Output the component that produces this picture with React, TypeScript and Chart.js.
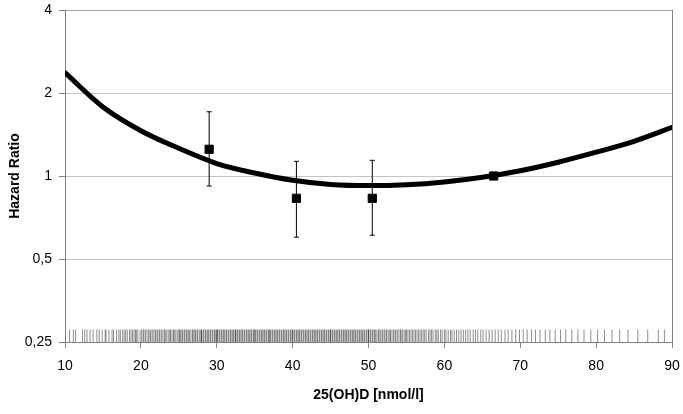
import React, { useEffect, useRef } from 'react';
import { Chart, registerables } from 'chart.js';

Chart.register(...registerables);

// Spline curve (x in nmol/l, hazard ratio)
const curveX = [10, 15, 20, 25, 30, 35, 40, 45, 50, 55, 60, 65, 70, 75, 80, 85, 90];
const curveHR = [2.37, 1.78, 1.46, 1.26, 1.11, 1.025, 0.965, 0.932, 0.923, 0.93, 0.952, 0.99, 1.045, 1.122, 1.22, 1.336, 1.5];

// Category estimates with 95% CI
const pointX = [29, 40.5, 50.5, 66.5];
const pointHR = [1.25, 0.83, 0.83, 1.0];
const ciLow: (number | null)[] = [0.92, 0.6, 0.61, null];
const ciHigh: (number | null)[] = [1.71, 1.13, 1.14, null];

// Axis ticks
const xTicks = [10, 20, 30, 40, 50, 60, 70, 80, 90];
const yTicks = [0.25, 0.5, 1, 2, 4];

// Rug of individual 25(OH)D values
const rugLevel = 0.2632;
const rugX = [
  10.6, 11.1, 11.4, 12.3, 12.6, 12.9, 13.3, 13.7, 14.2, 14.5, 14.9, 15.3, 15.4, 15.8, 16.2, 16.4, 16.8, 17.1, 17.3, 17.6, 17.8,
  18.0, 18.2, 18.5, 18.7, 18.9, 19.1, 19.3, 19.4, 19.6, 19.9, 20.1, 20.3, 20.4, 20.6, 20.8, 21.0, 21.2, 21.3, 21.5, 21.7, 21.9,
  22.0, 22.2, 22.4, 22.5, 22.7, 22.9, 23.1, 23.2, 23.4, 23.6, 23.8, 23.9, 24.1, 24.3, 24.4, 24.6, 24.8, 25.0,
  25.1, 25.2, 25.4, 25.5, 25.7, 25.8, 26.0, 26.1, 26.3, 26.4, 26.6, 26.8, 26.9, 27.1, 27.2, 27.4, 27.5, 27.7, 27.9, 28.0,
  28.0, 28.2, 28.3, 28.5, 28.6, 28.8, 28.9, 29.1, 29.2, 29.4, 29.5, 29.7, 29.8, 30.0, 30.0, 30.1, 30.3, 30.4, 30.6, 30.7,
  30.9, 31.0, 31.2, 31.3, 31.5, 31.6, 31.8, 31.9, 32.1, 32.2, 32.4, 32.5, 32.5, 32.7, 32.8, 33.0, 33.1, 33.3, 33.4, 33.6,
  33.7, 33.9, 34.0, 34.2, 34.3, 34.5, 34.6, 34.8, 34.9, 35.0, 35.1, 35.3, 35.4, 35.6, 35.7, 35.9, 36.0, 36.2, 36.3, 36.5,
  36.6, 36.8, 36.9, 37.0, 37.1, 37.3, 37.4, 37.6, 37.7, 37.9, 38.0, 38.2, 38.3, 38.5, 38.6, 38.8, 38.9, 39.1, 39.2, 39.4,
  39.5, 39.7, 39.8, 40.0, 40.0, 40.2, 40.3, 40.5, 40.6, 40.8, 40.9, 41.1, 41.2, 41.4, 41.5, 41.7, 41.8, 42.0, 42.1, 42.3,
  42.4, 42.6, 42.7, 42.9, 43.0, 43.2, 43.3, 43.5, 43.6, 43.8, 43.9, 44.1, 44.2, 44.4, 44.5, 44.7, 44.8, 45.0, 45.0, 45.2,
  45.3, 45.5, 45.6, 45.8, 45.9, 46.1, 46.2, 46.4, 46.5, 46.7, 46.8, 47.0, 47.1, 47.3, 47.4, 47.6, 47.7, 47.9, 48.0, 48.2,
  48.3, 48.5, 48.6, 48.8, 48.9, 49.1, 49.2, 49.4, 49.5, 49.7, 49.8, 50.0, 50.0, 50.2, 50.3, 50.5, 50.6, 50.8, 50.9, 51.1,
  51.3, 51.4, 51.6, 51.8, 51.9, 52.1, 52.3, 52.4, 52.6, 52.8, 52.9, 53.1, 53.3, 53.5, 53.6, 53.8, 54.0, 54.2, 54.3, 54.5,
  54.7, 54.9, 55.0, 55.2, 55.4, 55.6, 55.8, 56.0, 56.2, 56.4, 56.6, 56.8, 57.0, 57.2, 57.4, 57.6, 57.9, 58.1, 58.3, 58.5,
  58.8, 59.0, 59.2, 59.5, 59.7, 60.0, 60.2, 60.5, 60.8, 61.0, 61.3, 61.6, 61.9, 62.2, 62.5, 62.8, 63.1, 63.4, 63.8, 64.1,
  64.4, 64.8, 65.1, 65.5, 65.9, 66.3, 66.7, 67.1, 67.5, 68.0, 68.4, 68.9, 69.4, 69.9, 70.4, 70.9, 71.5, 72.0, 72.6, 73.3,
  73.9, 74.6, 75.3, 76.0, 76.8, 77.6, 78.4, 79.3, 80.2, 81.1, 82.1, 83.1, 84.2, 85.5, 86.8, 88.2, 89.0,
];

export default function App() {
  const ref = useRef<HTMLCanvasElement>(null);

  useEffect(() => {
    if (!ref.current) return;
    Chart.defaults.font.family = "'Liberation Sans', Arial, sans-serif";
    Chart.defaults.color = '#000';

    const errorSets: any[] = [];
    pointX.forEach((x, i) => {
      const lo = ciLow[i];
      const hi = ciHigh[i];
      if (lo == null || hi == null) return;
      errorSets.push({
        type: 'line',
        data: [
          { x, y: lo },
          { x, y: hi },
        ],
        borderColor: '#000',
        borderWidth: 1,
        showLine: true,
        pointStyle: 'line',
        pointRadius: 2.5,
        pointBorderWidth: 1,
        pointBorderColor: '#000',
        order: 2,
      });
    });

    const chart = new Chart(ref.current, {
      type: 'scatter',
      data: {
        datasets: [
          {
            data: pointX.map((x, i) => ({ x, y: pointHR[i] })),
            pointStyle: 'rect',
            pointRadius: 5.8,
            pointBackgroundColor: '#000',
            pointBorderColor: '#000',
            pointBorderWidth: 1,
            order: 1,
          } as any,
          ...errorSets,
          {
            type: 'line',
            data: curveX.map((x, i) => ({ x, y: curveHR[i] })),
            borderColor: '#000',
            borderWidth: 5,
            pointRadius: 0,
            cubicInterpolationMode: 'monotone',
            borderCapStyle: 'round',
            order: 3,
          } as any,
          {
            data: rugX.map((x) => ({ x, y: rugLevel })),
            pointStyle: 'line',
            pointRotation: 90,
            pointRadius: 6.3,
            pointBorderColor: 'rgba(0,0,0,0.45)',
            pointBorderWidth: 1,
            order: 4,
          } as any,
        ],
      },
      options: {
        animation: false,
        responsive: false,
        events: [],
        layout: { padding: { top: 10, right: 11, left: 0, bottom: 0 } },
        plugins: { legend: { display: false }, tooltip: { enabled: false } },
        scales: {
          x: {
            type: 'linear',
            min: 10,
            max: 90,
            afterBuildTicks: (s: any) => {
              s.ticks = xTicks.map((v) => ({ value: v }));
            },
            afterFit: (s: any) => {
              s.height = 72;
              s.paddingLeft = 0;
              s.paddingRight = 0;
            },
            ticks: { font: { size: 14 }, color: '#000', padding: 10, maxRotation: 0, autoSkip: false },
            grid: {
              drawOnChartArea: true,
              color: (c: any) => (c.tick && c.tick.value === 90 ? '#808080' : 'rgba(0,0,0,0)'),
              tickLength: 6,
              tickColor: '#808080',
            },
            border: { color: '#808080' },
            title: {
              display: true,
              text: '25(OH)D [nmol/l]',
              font: { size: 14, weight: 'bold' },
              color: '#000',
              padding: { top: 0, bottom: 10 },
            },
          },
          y: {
            type: 'logarithmic',
            min: 0.25,
            max: 4,
            afterBuildTicks: (s: any) => {
              s.ticks = yTicks.map((v) => ({ value: v }));
            },
            afterFit: (s: any) => {
              s.width = 65;
              s.paddingTop = 0;
              s.paddingBottom = 0;
            },
            ticks: {
              font: { size: 14 },
              color: '#000',
              padding: 7,
              autoSkip: false,
              callback: (v: any) => String(v).replace('.', ','),
            },
            grid: {
              color: (c: any) =>
                c.tick && c.tick.value === 4 ? '#a0a0a0' : c.tick && c.tick.value === 0.25 ? '#808080' : '#c4c4c4',
              tickLength: 6,
              tickColor: '#808080',
            },
            border: { color: '#808080' },
            title: {
              display: true,
              text: 'Hazard Ratio',
              font: { size: 14, weight: 'bold' },
              color: '#000',
              padding: { top: 7, bottom: 0 },
            },
          },
        },
      } as any,
    });

    return () => chart.destroy();
  }, []);

  return (
    <div style={{ position: 'absolute', left: 0, top: 0, width: 683, height: 414, background: '#fff' }}>
      <canvas ref={ref} width={683} height={414} style={{ display: 'block' }} />
    </div>
  );
}
